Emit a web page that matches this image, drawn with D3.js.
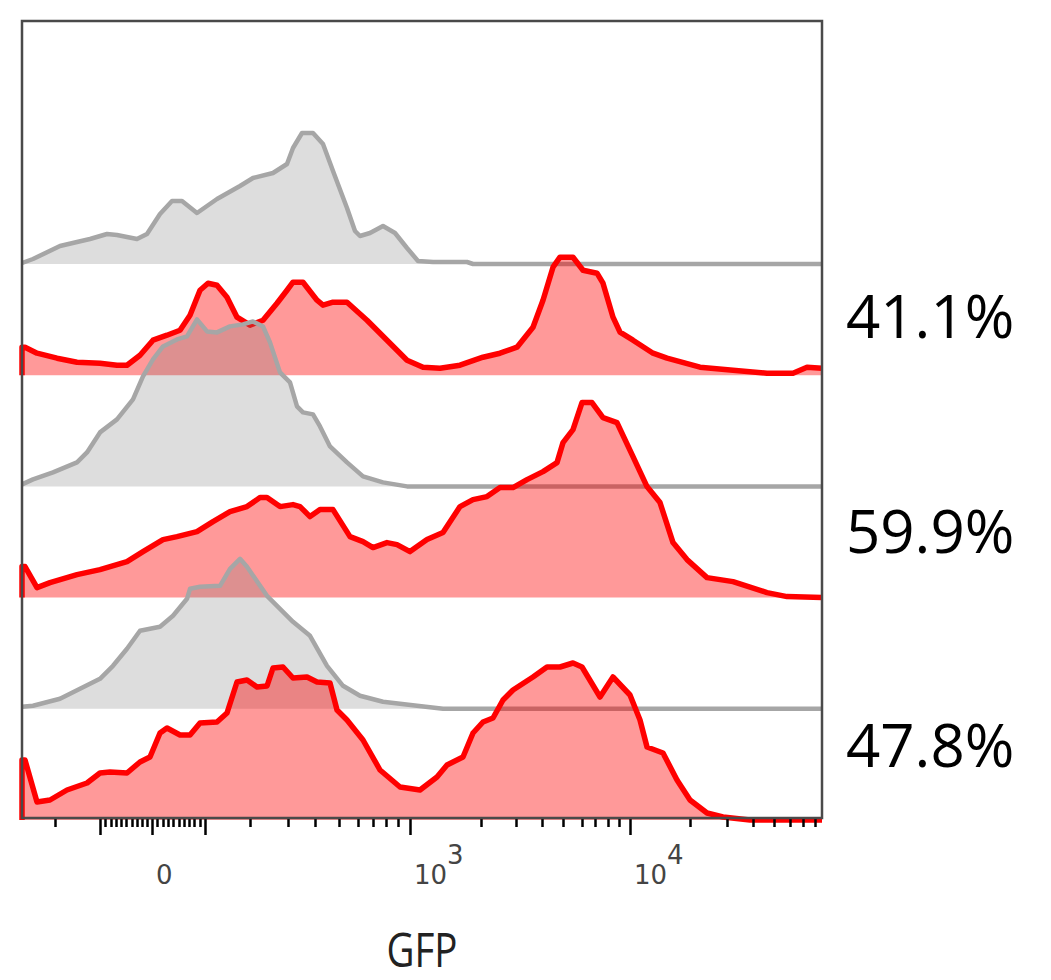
<!DOCTYPE html>
<html>
<head>
<meta charset="utf-8">
<script src="https://cdn.jsdelivr.net/npm/d3@7/dist/d3.min.js"></script>
<style>
  body { margin: 0; background: #fff; }
</style>
</head>
<body>
<div id="chart"></div>
<script>
// histograms: [display channel (0-800), % of max]
const gray1 = [[0,0.5],[11,2.5],[38,9],[55,11],[68,12.5],[85,15],[95,14.5],[115,12.5],[125,15],[138,25],[150,31.5],[160,31.5],[175,25.5],[195,32.5],[218,39],[231,43],[251,45.5],[265,50],[271,58],[280,65.5],[291,65.5],[301,60],[311,46.5],[325,28],[333,16.5],[338,14],[348,15.5],[361,19],[373,15.5],[385,8],[396,1.5],[411,1],[445,1],[451,0],[800,0]];
const red1 = [[0,0],[0,14],[3,14],[15,11],[35,8.5],[55,6.5],[78,6],[95,5],[105,5],[118,10],[131,17.5],[145,20],[158,22.5],[168,30],[178,42.5],[186,46],[195,45],[205,39],[215,29],[228,25],[241,27.5],[255,36],[265,42.5],[271,46.5],[281,46.5],[295,37.5],[301,35],[311,36.5],[325,36.5],[345,27.5],[365,17.5],[385,7.5],[401,4],[418,3.5],[438,5],[461,9],[478,11],[495,14],[511,24],[521,37.5],[531,54],[538,59],[551,59],[561,52.5],[575,51],[581,46],[591,29],[598,21.5],[611,17.5],[631,11],[645,8.5],[678,4],[711,2.5],[745,1],[771,1],[785,4],[800,3.5]];
const gray2 = [[0,1],[11,3.5],[31,7],[55,12],[65,17],[78,27],[95,33.5],[111,43.5],[121,55],[131,63.5],[141,70],[155,73.5],[165,75],[175,83.5],[185,77.5],[195,77],[208,80],[221,81],[231,82.5],[241,80],[248,72],[258,57],[268,52],[275,40],[281,37],[291,36],[298,30],[308,20],[325,12],[341,5],[361,2],[385,0],[800,0]];
const red2 = [[0,0],[0,15.5],[3,15.5],[15,5],[28,7.5],[55,11.5],[78,14],[105,18],[121,23],[141,29],[155,30.5],[175,33],[191,38],[208,43],[225,45.5],[238,50],[245,50],[258,45.5],[271,46.5],[278,45.5],[288,40.5],[298,44],[311,44],[328,30.5],[341,28],[351,25],[365,27.5],[375,26.5],[388,23],[405,29],[421,32.5],[438,45.5],[451,49],[465,50.5],[478,55],[491,55],[505,59],[521,63],[535,67.5],[541,77.5],[551,84],[560,97.5],[570,97.5],[581,90],[595,87.5],[611,70.5],[625,55.5],[638,47.5],[651,27.5],[665,19],[685,10],[711,8],[745,2.5],[765,0.5],[800,0]];
const gray3 = [[0,1],[11,1.5],[38,5],[58,10],[78,15],[91,21.5],[105,30],[118,39],[138,41],[151,46.5],[165,55],[168,60],[178,61],[198,61.5],[208,70],[218,75],[225,71],[245,56.5],[271,43.5],[288,36.5],[305,21.5],[321,11.5],[338,6.5],[361,3.5],[395,1.5],[421,0],[800,0]];
const red3 = [[0,0],[0,30],[3,30],[15,9],[28,10],[45,15],[65,18.5],[78,23.5],[88,24],[105,23.5],[118,29],[128,31.5],[138,43.5],[145,46],[158,42.5],[168,42.5],[178,48.5],[195,49],[205,53.5],[215,69],[225,70],[235,66.5],[245,67],[251,76],[261,76.5],[271,71],[285,71.5],[295,69],[308,68.5],[315,55],[325,50],[341,40],[358,25],[378,16.5],[398,15],[415,21.5],[425,27.5],[441,31.5],[451,43.5],[461,49],[471,51],[481,60],[491,65],[511,71.5],[525,76.5],[538,76.5],[551,78.5],[560,76.5],[578,61.5],[591,71.5],[608,62.5],[618,50],[625,36.5],[641,33.5],[655,20],[668,10],[685,3.5],[701,1.5],[728,0],[800,0]];

const rows = ["ctrl1", "gfp1", "ctrl2", "gfp2", "ctrl3", "gfp3"];
const rowData = [gray1, red1, gray2, red2, gray3, red3];
const percents = ["41.1%", "59.9%", "47.8%"];

// axis ticks in display channels
const labelTicks = [130, 388, 608];
const tickLabels = [["0", ""], ["10", "3"], ["10", "4"]];
const bigTicks = [78, 183];
const minorTicks = [33, 83, 89, 94, 99, 104, 110, 115, 120, 125, 135, 141, 146, 151, 157, 162, 167, 172, 178,
  228, 266, 293, 317, 336, 351, 364, 376, 459, 494, 520, 541, 560, 573, 586, 597, 668, 705, 731, 752, 768, 781, 793];

const width = 1051, height = 980;
const plotLeft = 22, plotRight = 822, plotTop = 21, plotBottom = 818;

const svg = d3.select("#chart").append("svg")
  .attr("width", width)
  .attr("height", height);

const x = d3.scaleLinear().domain([0, 800]).range([plotLeft, plotRight]);
const row = d3.scalePoint().domain(rows).range([264, 820]);
const h = d3.scaleLinear().domain([0, 100]).range([0, 200]);

rows.forEach((r, i) => {
  const base = row(r);
  const isGray = r.startsWith("ctrl");
  const data = rowData[i];
  const area = d3.area()
    .x(d => x(d[0]))
    .y0(base)
    .y1(d => base - h(d[1]));
  const line = d3.line()
    .x(d => x(d[0]))
    .y(d => base - h(d[1]));
  svg.append("path")
    .datum(data)
    .attr("d", area)
    .attr("fill", isGray ? "rgba(120,120,120,0.25)" : "rgba(255,0,0,0.4)");
  svg.append("path")
    .datum(data)
    .attr("d", line)
    .attr("fill", "none")
    .attr("stroke", isGray ? "#a6a6a6" : "#ff0000")
    .attr("stroke-width", isGray ? 4.5 : 5.5)
    .attr("stroke-linejoin", "round");
});

// ticks
const minorAxis = d3.axisBottom(x).tickValues(minorTicks).tickSize(9).tickFormat("");
const bigAxis = d3.axisBottom(x).tickValues(bigTicks.concat(labelTicks)).tickSize(17).tickFormat("");
[minorAxis, bigAxis].forEach(ax => {
  const g = svg.append("g")
    .attr("transform", `translate(0,${plotBottom})`)
    .call(ax);
  g.select(".domain").remove();
  g.selectAll("line").attr("stroke", "#000").attr("stroke-width", 2.5);
});

const tl = svg.append("g")
  .selectAll("text")
  .data(labelTicks)
  .join("text")
  .attr("x", d => x(d) + 4)
  .attr("y", 884)
  .attr("font-family", "DejaVu Sans, sans-serif")
  .attr("font-size", 26)
  .attr("fill", "#444");
tl.append("tspan").text((d, i) => tickLabels[i][0]);
tl.append("tspan").attr("dy", -20).text((d, i) => tickLabels[i][1]);

// frame
svg.append("rect")
  .attr("x", plotLeft)
  .attr("y", plotTop)
  .attr("width", plotRight - plotLeft)
  .attr("height", plotBottom - plotTop)
  .attr("fill", "none")
  .attr("stroke", "#4a4a4a")
  .attr("stroke-width", 2.5);

// percentages
const py = d3.scalePoint().domain(percents).range([338, 767]);
svg.append("g")
  .selectAll("text")
  .data(percents)
  .join("text")
  .attr("x", 846)
  .attr("y", d => py(d))
  .attr("font-family", "Open Sans, sans-serif")
  .attr("font-size", 60)
  .attr("fill", "#000")
  .text(d => d);

svg.append("text")
  .attr("transform", `translate(${(plotLeft + plotRight) / 2},967) scale(0.82,1)`)
  .attr("text-anchor", "middle")
  .attr("font-family", "Open Sans, sans-serif")
  .attr("font-size", 47)
  .attr("fill", "#222")
  .text("GFP");
</script>
</body>
</html>
